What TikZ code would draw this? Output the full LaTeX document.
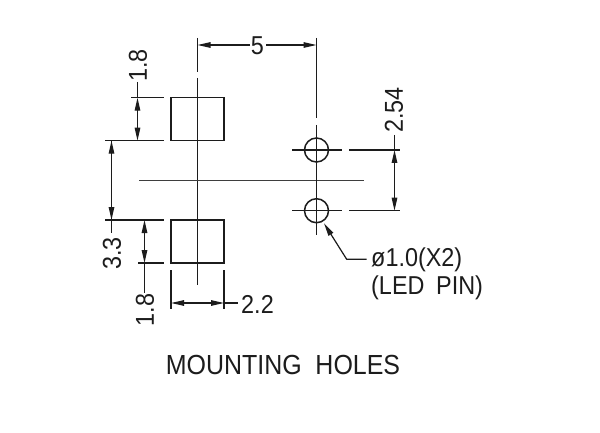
\documentclass[tikz,border=0pt]{standalone}
\usepackage{fontspec}
\setmainfont{Liberation Sans}
\usetikzlibrary{arrows.meta}
\definecolor{ink}{HTML}{1c1c1c}
\newcommand{\tallt}[1]{\scalebox{1.04}[1.15]{#1}}
\tikzset{
  x=1pt,y=-1pt,
  part/.style={draw=ink,line width=1.5pt},
  center line/.style={draw=ink,line width=1.4pt},
  thin part/.style={draw=ink!85,line width=1pt},
  dim/.style={draw=ink,line width=1.2pt},
  dimboth/.style={dim,{Stealth[length=13pt,width=5.5pt,inset=0pt]}-{Stealth[length=13pt,width=5.5pt,inset=0pt]}},
  dimend/.style={dim,-{Stealth[length=13pt,width=5.5pt,inset=0pt]}},
  label/.style={text=ink,inner sep=0pt,font=\fontsize{22.5}{23}\selectfont},
}
\begin{document}
\begin{tikzpicture}
\useasboundingbox[fill=white] (0,0) rectangle (600,433);
% pads
\draw[part] (171,97.7) rectangle (224,140.7);
\draw[part] (171,220) rectangle (224,263);
% center lines
\draw[center line] (197.5,38) -- (197.5,72);
\draw[center line] (197.5,78) -- (197.5,285);
\draw[thin part] (139,180.5) -- (364,180.5);
\draw[center line] (316.5,38) -- (316.5,118);
\draw[center line] (316.5,125) -- (316.5,235);
% holes
\draw[part] (316.5,150) circle (12);
\draw[part] (316.5,210.7) circle (12);
\draw[center line] (292,150) -- (342,150);
\draw[center line] (292,210.7) -- (342,210.7);
% extension lines
\draw[center line] (349,150) -- (400,150);
\draw[center line] (349,210.7) -- (400,210.7);
\draw[center line] (131,97.7) -- (164,97.7);
\draw[center line] (105,140.7) -- (164,140.7);
\draw[center line] (105,220) -- (164,220);
\draw[center line] (138,263) -- (164,263);
\draw[center line] (171,270) -- (171,309);
\draw[center line] (224,270) -- (224,309);
% labels
\node[label,rotate=90] (t18a) at (138,65.5) {\tallt{1.8}};
\node[label,rotate=90] (t33) at (112,253.5) {\tallt{3.3}};
\node[label,rotate=90] (t18b) at (145,310) {\tallt{1.8}};
\node[label,rotate=90] (t254) at (394,110) {\tallt{2.54}};
\node[label] (t5) at (257.5,45.5) {\tallt{5}};
\node[label] (t22) at (257.5,304) {\tallt{2.2}};
\node[label,anchor=west] (tdia) at (371,260) {\tallt{ø1.0(X2)}};
\node[label,anchor=west] (tled) at (371,288) {\tallt{(LED\hspace{0.5em}PIN)}};
\node[label,font=\fontsize{24}{25}\selectfont] (ttitle) at (283,365) {\tallt{MOUNTING\hspace{0.55em}HOLES}};
% dimensions
\draw[dimboth] (137.5,97.7) -- (137.5,140.7);
\draw[dim] (137.5,82) -- (137.5,97.7);
\draw[dimend] (111.5,171) -- (111.5,140.7);
\draw[dimend] (111.5,190) -- (111.5,220);
\draw[dim] (111.5,140.7) -- (111.5,233);
\draw[dimboth] (144.5,220) -- (144.5,263);
\draw[dim] (144.5,263) -- (144.5,293);
\draw[dimboth] (171,303) -- (224,303);
\draw[dim] (224,303) -- (238,303);
\draw[dimboth] (394.5,150) -- (394.5,210.7);
\draw[dim] (394.5,135) -- (394.5,150);
\draw[dimend] (250,45) -- (197.5,45);
\draw[dimend] (266,45) -- (316.5,45);
% leader
\draw[dim,{Stealth[length=13pt,width=5.5pt,inset=0pt]}-] (324,223.3) -- (346.7,259.3) -- (366.7,259.3);
\end{tikzpicture}
\end{document}
